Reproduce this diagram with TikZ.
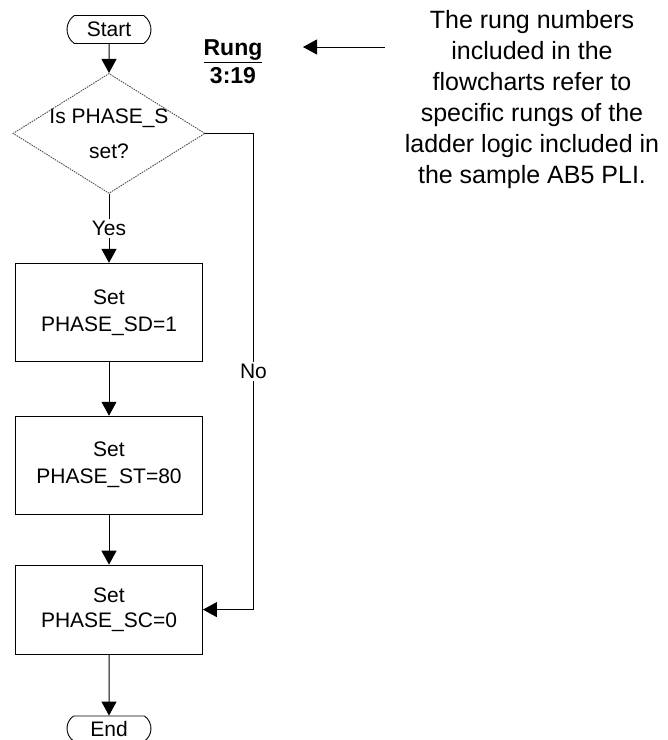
\documentclass[tikz,border=0pt]{standalone}
\usepackage{fontspec}
\setmainfont{Liberation Sans}
\usetikzlibrary{shapes.geometric, shapes.misc, arrows.meta, positioning}
\tikzstyle{startstop} = [rounded rectangle, 
rounded rectangle arc length=110,
minimum width=84pt, 
minimum height=28pt,
inner sep=0pt,
text centered, 
draw=black, line width=0.9pt,
font=\fontsize{21}{24}\selectfont]
\tikzstyle{process} = [rectangle, 
minimum width=187pt, 
minimum height=98pt, 
text centered, 
align=center,
draw=black, line width=0.9pt,
font=\fontsize{21}{27}\selectfont]
\tikzstyle{decision} = [diamond, 
shape aspect=1.6,
minimum width=192pt, 
minimum height=120pt, 
inner sep=-8pt,
text centered, 
align=center,
draw=black!70, dash pattern=on 1.5pt off 1pt, line width=0.9pt,
font=\fontsize{21}{35}\selectfont]
\tikzstyle{arrow} = [line width=1pt,-{Triangle[width=15pt,length=14pt]}]
\tikzstyle{label} = [fill=white, inner sep=2pt, font=\fontsize{21}{24}\selectfont]

\begin{document}
\begin{tikzpicture}[x=1pt, y=-1pt]
        \useasboundingbox (0,0) rectangle (668,740);

        \node (start) [startstop] at (109,29.5) {Start};
        \node (check) [decision, below=29pt of start] {Is PHASE\_S\\set?};
        \node (set_sd) [process, below=69pt of check] {Set\\PHASE\_SD=1};
        \node (set_st) [process, below=54pt of set_sd] {Set\\PHASE\_ST=80};
        \node (set_sc) [process, below=50pt of set_st, minimum height=89pt, font=\fontsize{21}{25}\selectfont] {Set\\PHASE\_SC=0};
        \node (stop) [startstop, below=61pt of set_sc, minimum height=25pt] {End};

        \node (rung) [align=center, font=\bfseries\fontsize{23}{28}\selectfont] at (233,62) {\underline{Rung}\\3:19};
        \node (note) [align=center, font=\fontsize{25}{31}\selectfont] at (532,100) {The rung numbers\\included in the\\flowcharts refer to\\specific rungs of the\\ladder logic included in\\the sample AB5 PLI.};
        \coordinate (ptail) at (385,47);
        \coordinate (phead) at (303,47);

        \draw [arrow] (start) -- (check);
        \draw [arrow] (check) -- node[label] {Yes} (set_sd);
        \draw [arrow] (set_sd) -- (set_st);
        \draw [arrow] (set_st) -- (set_sc);
        \draw [arrow] (set_sc) -- (stop);
        \draw [arrow] (check.east) -- ++(48,0) |- node[label, pos=0.25] {No} (set_sc.east);

        \draw [arrow] (ptail) -- (phead);

    \end{tikzpicture}
\end{document}
